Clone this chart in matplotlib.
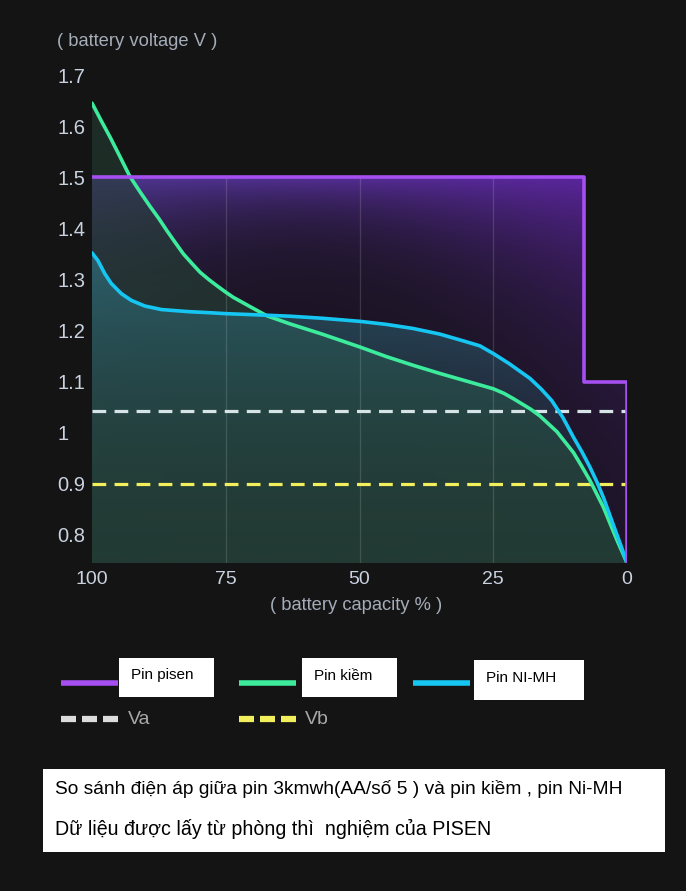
import numpy as np
import matplotlib
matplotlib.use('Agg')
import matplotlib.pyplot as plt
from matplotlib.patches import Polygon, Rectangle
from matplotlib.lines import Line2D

plt.rcParams['font.family'] = ['Liberation Sans', 'DejaVu Sans']

# dữ liệu (dung lượng %, điện áp V)
pisen_cap = [100, 8, 8, 0, 0]
pisen_v = [1.5, 1.5, 1.1, 1.1, 0.745]

kiem_cap = [100, 98.3, 96.6, 95, 92.95, 91, 89.16, 87.5, 86.04, 84.5, 82.93, 81.3,
            79.8, 78.2, 76.7, 75, 73.6, 70.5, 67.35, 63, 57, 50, 45, 40, 35, 30,
            25, 23, 21.3, 18, 16.3, 13.1, 10, 8.5, 6.9, 5.6, 4.4, 3.5, 2.6, 1.8, 1, 0]
kiem_v = [1.645, 1.611, 1.578, 1.545, 1.502, 1.471, 1.443, 1.419, 1.396, 1.373, 1.35,
          1.331, 1.314, 1.300, 1.288, 1.275, 1.265, 1.247, 1.229, 1.213, 1.193, 1.168,
          1.149, 1.132, 1.116, 1.101, 1.086, 1.077, 1.067, 1.046, 1.033, 1.002, 0.961,
          0.935, 0.906, 0.879, 0.854, 0.831, 0.808, 0.788, 0.769, 0.745]

nimh_cap = [100, 98.9, 97.6, 96.4, 94.5, 92.65, 90.15, 87, 82.1, 78.3, 75, 70, 63,
            57, 50, 45, 40, 35, 30.7, 27.5, 25, 22, 18.1, 16, 14.08, 12, 10, 8.4,
            6.9, 5.6, 4.4, 3.5, 2.6, 1.8, 1, 0]
nimh_v = [1.352, 1.337, 1.311, 1.292, 1.272, 1.259, 1.248, 1.241, 1.237, 1.235, 1.233,
          1.231, 1.228, 1.224, 1.218, 1.212, 1.204, 1.193, 1.18, 1.17, 1.155, 1.135,
          1.106, 1.085, 1.063, 1.03, 0.991, 0.962, 0.932, 0.903, 0.873, 0.847, 0.821,
          0.798, 0.775, 0.745]

va = 1.043
vb = 0.9

xticks = [100, 75, 50, 25, 0]
yticks = [0.8, 0.9, 1.0, 1.1, 1.2, 1.3, 1.4, 1.5, 1.6, 1.7]
ytick_labels = ['0.8', '0.9', '1', '1.1', '1.2', '1.3', '1.4', '1.5', '1.6', '1.7']

BG = '#151415'
W, H = 686, 891
YMIN, YMAX = 0.745, 1.72

fig = plt.figure(figsize=(W / 100, H / 100), dpi=100, facecolor=BG)
ax = fig.add_axes([92 / W, 1 - 563 / H, (627 - 92) / W, (563 - 64.8) / H])
ax.set_facecolor(BG)


def clip_poly(xs, ys):
    pts = list(zip(xs, ys)) + [(0, YMIN), (100, YMIN)]
    p = Polygon(pts, closed=True, transform=ax.transData, facecolor='none', edgecolor='none')
    ax.add_patch(p)
    return p


# gradient tím dưới đường pin pisen
nx, ny = 300, 300
gx = np.linspace(0, 1, nx)          # 0 = 100%, 1 = 0%
gy = np.linspace(YMIN, 1.5, ny)
XR, YY = np.meshgrid(gx, gy)
L = 0.05 + 0.2 * XR ** 3 + 0.1 * (1 - XR) ** 4
w = np.exp(-(1.5 - YY) / L)
base = np.array([0.105, 0.078, 0.133])
purp = np.stack([0.30 + 0.06 * XR, 0.21 - 0.07 * XR, 0.55 + 0.07 * XR], axis=-1)
img = base + (purp - base) * w[..., None]
im = ax.imshow(img, extent=[100, 0, YMIN, 1.5], origin='lower', aspect='auto', zorder=1)
im.set_clip_path(clip_poly([100, 8, 8, 0], [1.5, 1.5, 1.1, 1.1]))

# vùng pin kiềm
gy2 = np.linspace(YMIN, 1.65, ny)
t = (gy2 - YMIN) / (1.65 - YMIN)
g = np.zeros((ny, 2, 4))
g[..., 0], g[..., 1], g[..., 2] = 0.145, 0.25, 0.20
g[..., 3] = (0.55 + 0.3 * (1 - t))[:, None]
im2 = ax.imshow(g, extent=[100, 0, YMIN, 1.65], origin='lower', aspect='auto', zorder=2)
im2.set_clip_path(clip_poly(kiem_cap, kiem_v))

# vùng pin Ni-MH
gy3 = np.linspace(YMIN, 1.35, ny)
t3 = (gy3 - YMIN) / (1.35 - YMIN)
b = np.zeros((ny, 2, 4))
b[..., 0], b[..., 1], b[..., 2] = 0.19, 0.46, 0.52
b[..., 3] = (0.05 + 0.6 * t3 ** 1.6)[:, None]
im3 = ax.imshow(b, extent=[100, 0, YMIN, 1.35], origin='lower', aspect='auto', zorder=3)
im3.set_clip_path(clip_poly(nimh_cap, nimh_v))

# lưới dọc
ax.vlines([75, 50, 25], YMIN, 1.5, color='white', alpha=0.14, lw=0.9, zorder=4)

# đường ngưỡng
ax.plot([100, 0], [va, va], color='#d6e4e8', lw=2.3, ls=(0, (4.3, 2.6)), zorder=5)
ax.plot([100, 0], [vb, vb], color='#f2ef5c', lw=2.3, ls=(0, (4.3, 2.6)), zorder=5)

ax.plot(kiem_cap, kiem_v, color='#3cec9c', lw=2.6, zorder=6,
        solid_capstyle='round', solid_joinstyle='round')
ax.plot(nimh_cap, nimh_v, color='#16c6f2', lw=2.6, zorder=7,
        solid_capstyle='round', solid_joinstyle='round')
ax.plot(pisen_cap, pisen_v, color='#a64ff0', lw=2.6, zorder=8)

ax.set_xlim(100, 0)
ax.set_ylim(YMIN, YMAX)
for s in ax.spines.values():
    s.set_visible(False)
ax.set_xticks(xticks)
ax.set_xticklabels([str(v) for v in xticks])
ax.set_yticks(yticks)
ax.set_yticklabels(ytick_labels)
ax.tick_params(length=0, colors='#c9d2df', labelsize=14)
ax.tick_params(axis='y', labelsize=14.5)
ax.tick_params(axis='x', pad=6)
ax.tick_params(axis='y', pad=25)
for lab in ax.get_yticklabels():
    lab.set_horizontalalignment('left')

tc = '#a4acb8'
fig.text(57 / W, 1 - 42 / H, '( battery voltage V )', color=tc, fontsize=13.2, va='center', ha='left')
fig.text(356 / W, 1 - 606 / H, '( battery capacity % )', color=tc, fontsize=13.2, va='center', ha='center')


def fx(x):
    return x / W


def fy(y):
    return 1 - y / H


def rect(x0, y0, x1, y1):
    fig.add_artist(Rectangle((fx(x0), fy(y1)), fx(x1) - fx(x0), fy(y0) - fy(y1),
                             transform=fig.transFigure, facecolor='white', edgecolor='none'))


# chú thích
legend_items = [
    ('Pin pisen', '#a64ff0', 61, 119, 214, 658, 697),
    ('Pin kiềm', '#3cec9c', 239, 302, 397, 658, 697),
    ('Pin NI-MH', '#16c6f2', 413, 474, 584, 660, 700),
]
for label, col, sx, bx0, bx1, by0, by1 in legend_items:
    fig.add_artist(Line2D([fx(sx), fx(sx + 57)], [fy(683), fy(683)], color=col, lw=4,
                          transform=fig.transFigure, solid_capstyle='butt'))
    rect(bx0, by0, bx1, by1)
    fig.text(fx(bx0 + 12), fy((by0 + by1) / 2 - 2), label, color='black', fontsize=11,
             va='center', ha='left')

for label, col, sx, tx in [('Va', '#dcdcdc', 61, 128), ('Vb', '#f2ef5c', 239, 305)]:
    fig.add_artist(Line2D([fx(sx), fx(sx + 57)], [fy(719), fy(719)], color=col, lw=4.5,
                          ls=(0, (2.4, 0.96)), transform=fig.transFigure, solid_capstyle='butt'))
    fig.text(fx(tx), fy(719), label, color='#a8a8a8', fontsize=14, va='center', ha='left')

rect(43, 769, 665, 852)
fig.text(fx(55), fy(789), 'So sánh điện áp giữa pin 3kmwh(AA/số 5 ) và pin kiềm , pin Ni-MH',
         color='black', fontsize=13.8, va='center', ha='left')
fig.text(fx(55), fy(829), 'Dữ liệu được lấy từ phòng thì  nghiệm của PISEN',
         color='black', fontsize=14.1, va='center', ha='left')

fig.savefig('out.png', dpi=100, facecolor=BG)
